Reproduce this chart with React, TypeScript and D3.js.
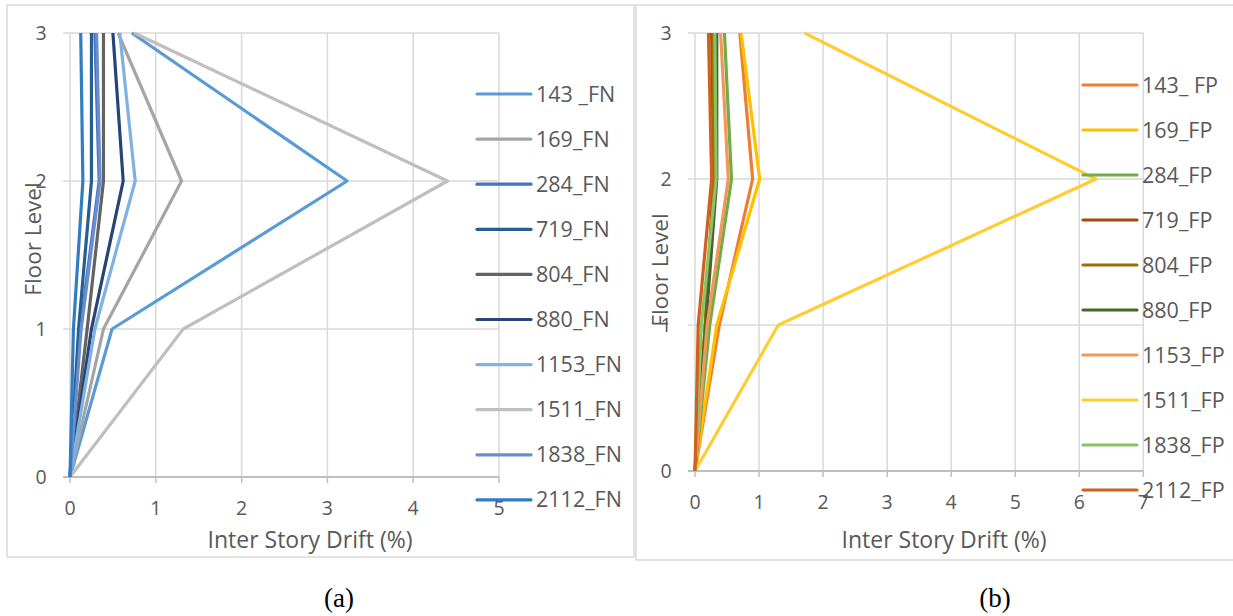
import React from 'react';
import * as d3 from 'd3';

// Floor levels (y values shared by every series)
const floors = [0, 1, 2, 3];
const yTicks = [0, 1, 2, 3];
const xTicksFN = [0, 1, 2, 3, 4, 5];
const xTicksFP = [0, 1, 2, 3, 4, 5, 6, 7];

// Fault-normal records: drift (%) at floors 0..3
const fnLabels = ['143 _FN', '169_FN', '284_FN', '719_FN', '804_FN', '880_FN', '1153_FN', '1511_FN', '1838_FN', '2112_FN'];
const fnColors = ['#5B9BD5', '#A5A5A5', '#4472C4', '#255E91', '#636363', '#264478', '#7FB2E0', '#BFBFBF', '#698ED0', '#327DC2'];
const fn143 = [0, 0.49, 3.23, 0.72];
const fn169 = [0, 0.39, 1.3, 0.56];
const fn284 = [0, 0.12, 0.34, 0.29];
const fn719 = [0, 0.1, 0.25, 0.25];
const fn804 = [0, 0.2, 0.39, 0.39];
const fn880 = [0, 0.25, 0.62, 0.5];
const fn1153 = [0, 0.29, 0.76, 0.58];
const fn1511 = [0, 1.32, 4.4, 0.75];
const fn1838 = [0, 0.13, 0.35, 0.31];
const fn2112 = [0, 0.04, 0.15, 0.125];
const fnSeries = [fn143, fn169, fn284, fn719, fn804, fn880, fn1153, fn1511, fn1838, fn2112];

// Fault-parallel records: drift (%) at floors 0..3
const fpLabels = ['143_ FP', '169_FP', '284_FP', '719_FP', '804_FP', '880_FP', '1153_FP', '1511_FP', '1838_FP', '2112_FP'];
const fpColors = ['#ED7D31', '#FFC000', '#70AD47', '#9E480E', '#997300', '#43682B', '#F1975A', '#FFCD33', '#8CC168', '#D2601A'];
const fp143 = [0, 0.38, 0.9, 0.7];
const fp169 = [0, 0.34, 1.01, 0.72];
const fp284 = [0, 0.23, 0.57, 0.46];
const fp719 = [0, 0.16, 0.29, 0.26];
const fp804 = [0, 0.16, 0.3, 0.28];
const fp880 = [0, 0.17, 0.34, 0.34];
const fp1153 = [0, 0.19, 0.52, 0.4];
const fp1511 = [0, 1.3, 6.26, 1.71];
const fp1838 = [0, 0.1, 0.33, 0.31];
const fp2112 = [0, 0.05, 0.26, 0.21];
const fpSeries = [fp143, fp169, fp284, fp719, fp804, fp880, fp1153, fp1511, fp1838, fp2112];

const FONT = '"Open Sans", Lato, sans-serif';
const TEXT = '#595959';
const GRID = '#D9D9D9';
const AXIS = '#BFBFBF';

type PanelProps = {
  box: [number, number, number, number];
  xRange: [number, number];
  yRange: [number, number];
  xMax: number;
  xTicks: number[];
  series: number[][];
  colors: string[];
  labels: string[];
  legendX: number;
  legendY0: number;
  legendStep: number;
  xTitleX: number;
  yTitleX: number;
  yTitleY: number;
  caption: string;
  captionX: number;
};

function Panel(p: PanelProps) {
  const x = d3.scaleLinear().domain([0, p.xMax]).range(p.xRange);
  const y = d3.scaleLinear().domain([0, 3]).range(p.yRange);
  const line = d3
    .line<number>()
    .x((d) => x(d))
    .y((_, i) => y(floors[i]));
  const [bx, by, bw, bh] = p.box;
  return (
    <g>
      <rect x={bx} y={by} width={bw} height={bh} fill="#fff" stroke={GRID} strokeWidth={1.5} />
      {/* gridlines */}
      {p.xTicks.map((t) => (
        <line key={'gx' + t} x1={x(t)} x2={x(t)} y1={y(3)} y2={y(0)} stroke={GRID} strokeWidth={1.5} />
      ))}
      {yTicks.map((t) => (
        <line key={'gy' + t} x1={x(0) - 7} x2={x(p.xMax)} y1={y(t)} y2={y(t)} stroke={t === 0 ? AXIS : GRID} strokeWidth={t === 0 ? 2 : 1.5} />
      ))}
      {p.xTicks.map((t) => (
        <line key={'tx' + t} x1={x(t)} x2={x(t)} y1={y(0)} y2={y(0) + 6} stroke={AXIS} strokeWidth={1.5} />
      ))}
      {/* tick labels */}
      {p.xTicks.map((t) => (
        <text key={'lx' + t} x={x(t)} y={y(0) + 38} textAnchor="middle" fontSize={19.5} fill={TEXT} fontFamily={FONT}>
          {t}
        </text>
      ))}
      {yTicks.map((t) => (
        <text key={'ly' + t} x={x(0) - 29} y={y(t) + 7} textAnchor="middle" fontSize={19.5} fill={TEXT} fontFamily={FONT}>
          {t}
        </text>
      ))}
      {/* series */}
      {p.series.map((s, i) => (
        <path key={'s' + i} d={line(s) ?? ''} fill="none" stroke={p.colors[i]} strokeWidth={3.2} strokeLinejoin="round" />
      ))}
      {/* legend */}
      {p.labels.map((lab, i) => {
        const ly = p.legendY0 + i * p.legendStep;
        return (
          <g key={'lg' + i}>
            <line x1={p.legendX} x2={p.legendX + 54} y1={ly} y2={ly} stroke={p.colors[i]} strokeWidth={3.2} strokeLinecap="round" />
            <text x={p.legendX + 59} y={ly + 7.5} fontSize={21.5} fill={TEXT} fontFamily={FONT}>
              {lab}
            </text>
          </g>
        );
      })}
      {/* axis titles */}
      <text x={p.xTitleX} y={548} textAnchor="middle" fontSize={23} fill={TEXT} fontFamily={FONT}>
        Inter Story Drift (%)
      </text>
      <text
        transform={`translate(${p.yTitleX},${p.yTitleY}) rotate(-90)`}
        textAnchor="middle"
        fontSize={22.5}
        fill={TEXT}
        fontFamily={FONT}
      >
        Floor Level
      </text>
      <text x={p.captionX} y={607} textAnchor="middle" fontSize={27} fill="#000" fontFamily='"Liberation Serif", "Times New Roman", serif'>
        {p.caption}
      </text>
    </g>
  );
}

export default function App() {
  return (
    <svg width={1233} height={616} style={{ position: 'absolute', left: 0, top: 0, background: '#fff' }}>
      <Panel
        box={[7, 5, 627, 552]}
        xRange={[70, 499]}
        yRange={[477, 33]}
        xMax={5}
        xTicks={xTicksFN}
        series={fnSeries}
        colors={fnColors}
        labels={fnLabels}
        legendX={477}
        legendY0={94}
        legendStep={45.1}
        xTitleX={310}
        yTitleX={41}
        yTitleY={239}
        caption="(a)"
        captionX={339}
      />
      <Panel
        box={[636, 5, 610, 555]}
        xRange={[695, 1143.3]}
        yRange={[471, 33]}
        xMax={7}
        xTicks={xTicksFP}
        series={fpSeries}
        colors={fpColors}
        labels={fpLabels}
        legendX={1083}
        legendY0={85}
        legendStep={45}
        xTitleX={944}
        yTitleX={668}
        yTitleY={270}
        caption="(b)"
        captionX={995}
      />
    </svg>
  );
}
